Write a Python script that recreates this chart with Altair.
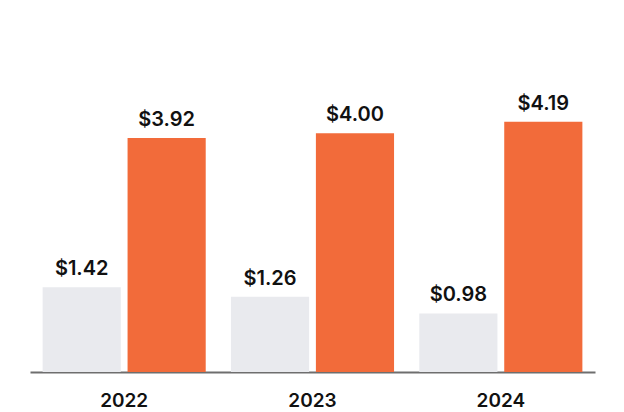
import altair as alt
import pandas as pd

years = ["2022", "2023", "2024"]
series = ["Low", "High"]
low_values = [1.42, 1.26, 0.98]
high_values = [3.92, 4.00, 4.19]
colors = ["#E9EAEE", "#F26B3A"]

rows = []
for i, y in enumerate(years):
    rows.append({"year": y, "series": "Low", "value": low_values[i], "label": f"${low_values[i]:.2f}"})
    rows.append({"year": y, "series": "High", "value": high_values[i], "label": f"${high_values[i]:.2f}"})
df = pd.DataFrame(rows)

FONT = "Inter"

x = alt.X("year:N", sort=years, title=None,
          scale=alt.Scale(paddingInner=0.134, paddingOuter=0.067),
          axis=alt.Axis(labelAngle=0, ticks=False, domainColor="#6E6E6E", domainWidth=2,
                        labelFont=FONT, labelFontSize=19, labelFontWeight=600,
                        labelColor="#111111", labelPadding=19, grid=False))
xo = alt.XOffset("series:N", sort=series, scale=alt.Scale(paddingInner=0.08))
y = alt.Y("value:Q", scale=alt.Scale(domain=[0, 5.528], nice=False), axis=None)

base = alt.Chart(df)
bars = base.mark_bar().encode(
    x=x, xOffset=xo, y=y,
    color=alt.Color("series:N", sort=series, scale=alt.Scale(domain=series, range=colors), legend=None),
)
text = base.mark_text(baseline="alphabetic", dy=-12, font=FONT, fontSize=20, fontWeight=600,
                      color="#111111").encode(
    x=x, xOffset=xo, y=y, text="label:N")

chart = (bars + text).properties(
    width=565, height=330,
    background="white",
    padding={"left": 22, "top": 34, "right": 21, "bottom": 40},
    autosize=alt.AutoSizeParams(type="none"),
).configure_view(stroke=None)

chart.save("out.html", embed_options={"renderer": "svg", "actions": False})
